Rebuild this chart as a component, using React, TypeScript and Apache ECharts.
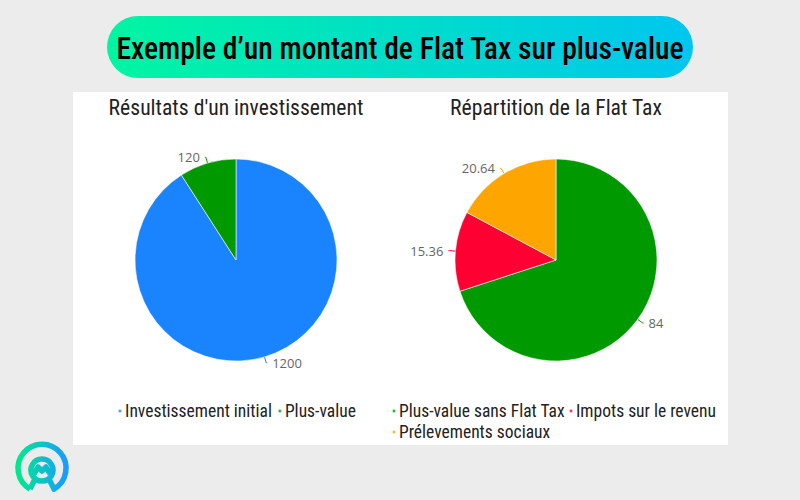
import React, { useEffect, useRef } from "react";
import * as echarts from "echarts";

const leftCategories = ["Investissement initial", "Plus-value"];
const leftValues = [1200, 120];
const leftColors = ["#1a84ff", "#009a00"];

const rightCategories = ["Plus-value sans Flat Tax", "Impots sur le revenu", "Prélevements sociaux"];
const rightValues = [84, 15.36, 20.64];
const rightColors = ["#009a00", "#ff0033", "#ffa500"];

const mainTitle = "Exemple d’un montant de Flat Tax sur plus-value";
const leftTitle = "Résultats d'un investissement";
const rightTitle = "Répartition de la Flat Tax";

const COND = "'Roboto Condensed', 'Liberation Sans Narrow', 'DejaVu Sans Condensed', Roboto, sans-serif";

const logoPath =
  "M18 49 A24 24 0 1 1 42 49 L37 39 M18 49 L23 39 M30 19 A11 11 0 1 1 29.9 19 Z M22 34 L26 27 L30 31 L34 27 L38 34";

export default function App() {
  const ref = useRef<HTMLDivElement>(null);
  useEffect(() => {
    if (!ref.current) return;
    echarts.graphic.registerShape("logo", echarts.graphic.extendPath(logoPath, {}));
    const chart = echarts.init(ref.current, null, { renderer: "svg" });
    const mkSeries = (name: string, cats: string[], vals: number[], colors: string[], cx: number) => ({
      type: "pie",
      name,
      center: [cx, 260],
      radius: [0, 101],
      startAngle: 90,
      clockwise: true,
      data: cats.map((c, i) => ({ name: c, value: vals[i], itemStyle: { color: colors[i] } })),
      itemStyle: { borderColor: "rgba(255,255,255,0.7)", borderWidth: 0.8 },
      label: {
        show: true,
        formatter: "{c}",
        color: "#666",
        fontSize: 13,
        fontFamily: "'Open Sans', 'Noto Sans', sans-serif",
      },
      labelLine: { show: true, length: 6, length2: 1, lineStyle: { width: 1 } },
      emphasis: { disabled: true },
    });
    const legendText = { fontSize: 17.5, color: "#222", fontFamily: COND, padding: [0, 0, 0, -2] };
    chart.setOption({
      animation: false,
      backgroundColor: "#ececec",
      legend: [
        {
          data: leftCategories,
          left: 112,
          top: 397,
          icon: "circle",
          itemWidth: 4,
          itemHeight: 4,
          itemGap: 5,
          textStyle: legendText,
        },
        {
          data: rightCategories,
          left: 386,
          top: 397,
          width: 340,
          icon: "circle",
          itemWidth: 4,
          itemHeight: 4,
          itemGap: 3,
          textStyle: legendText,
        },
      ],
      graphic: [
        { type: "rect", shape: { x: 73, y: 92, width: 655, height: 353 }, style: { fill: "#ffffff" }, z: -10 },
        {
          type: "rect",
          shape: { x: 107, y: 16, width: 586, height: 62, r: 31 },
          style: {
            fill: {
              type: "linear", x: 0, y: 0, x2: 1, y2: 0,
              colorStops: [
                { offset: 0, color: "#00f5a2" },
                { offset: 1, color: "#00c6ef" },
              ],
            },
          },
        },
        {
          type: "text",
          x: 400,
          y: 48,
          scaleX: 0.956,
          style: {
            text: mainTitle,
            fill: "#000",
            font: "500 31px " + COND,
            textAlign: "center",
            textVerticalAlign: "middle",
          },
        },
        {
          type: "text",
          x: 236,
          y: 107,
          scaleX: 0.985,
          style: { text: leftTitle, fill: "#222", font: "22px " + COND, textAlign: "center", textVerticalAlign: "middle" },
        },
        {
          type: "text",
          x: 556,
          y: 107,
          scaleX: 0.985,
          style: { text: rightTitle, fill: "#222", font: "22px " + COND, textAlign: "center", textVerticalAlign: "middle" },
        },
        {
          type: "logo",
          x: 12,
          y: 440,
          style: {
            fill: "none",
            lineWidth: 5.5,
            lineJoin: "round",
            stroke: {
              type: "linear", x: 0, y: 0, x2: 1, y2: 0,
              colorStops: [
                { offset: 0, color: "#00e88e" },
                { offset: 1, color: "#1a9cff" },
              ],
            },
          },
        },
      ],
      series: [
        mkSeries("left", leftCategories, leftValues, leftColors, 236),
        mkSeries("right", rightCategories, rightValues, rightColors, 556),
      ],
    });
    return () => chart.dispose();
  }, []);
  return <div ref={ref} style={{ position: "fixed", left: 0, top: 0, width: 800, height: 500 }} />;
}
